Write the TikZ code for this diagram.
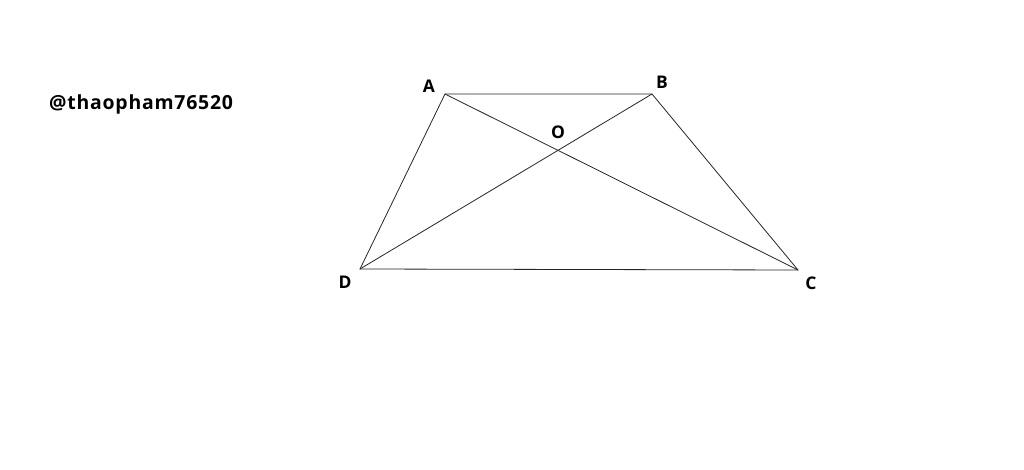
\documentclass[tikz,border=0pt]{standalone}
\usepackage{fontspec}
\setmainfont{Open Sans}
\begin{document}
\begin{tikzpicture}[x=1bp,y=-1bp,
  lbl/.style={inner sep=0pt,font=\fontsize{17.5}{20}\selectfont\bfseries},
  edge/.style={line width=0.8bp,black!85}]
\useasboundingbox[fill=white] (0,0) rectangle (1024,470);
\coordinate (A) at (445,94);
\coordinate (B) at (652,94);
\coordinate (C) at (798,270);
\coordinate (D) at (360,269);
\draw[edge] (A) -- (B) -- (C) -- (D) -- cycle;
\draw[edge] (A) -- (C);
\draw[edge] (B) -- (D);
\node[lbl] (lA) at (429,86) {A};
\node[lbl] (lB) at (662,82) {B};
\node[lbl] (lO) at (558,132) {O};
\node[lbl] (lD) at (345,282) {D};
\node[lbl] (lC) at (811,283) {C};
\node[anchor=base west,inner sep=0pt,font=\fontsize{19.5}{23}\selectfont\bfseries\addfontfeature{LetterSpace=4}] (wm) at (49,110) {@thaopham76520};
\end{tikzpicture}
\end{document}
